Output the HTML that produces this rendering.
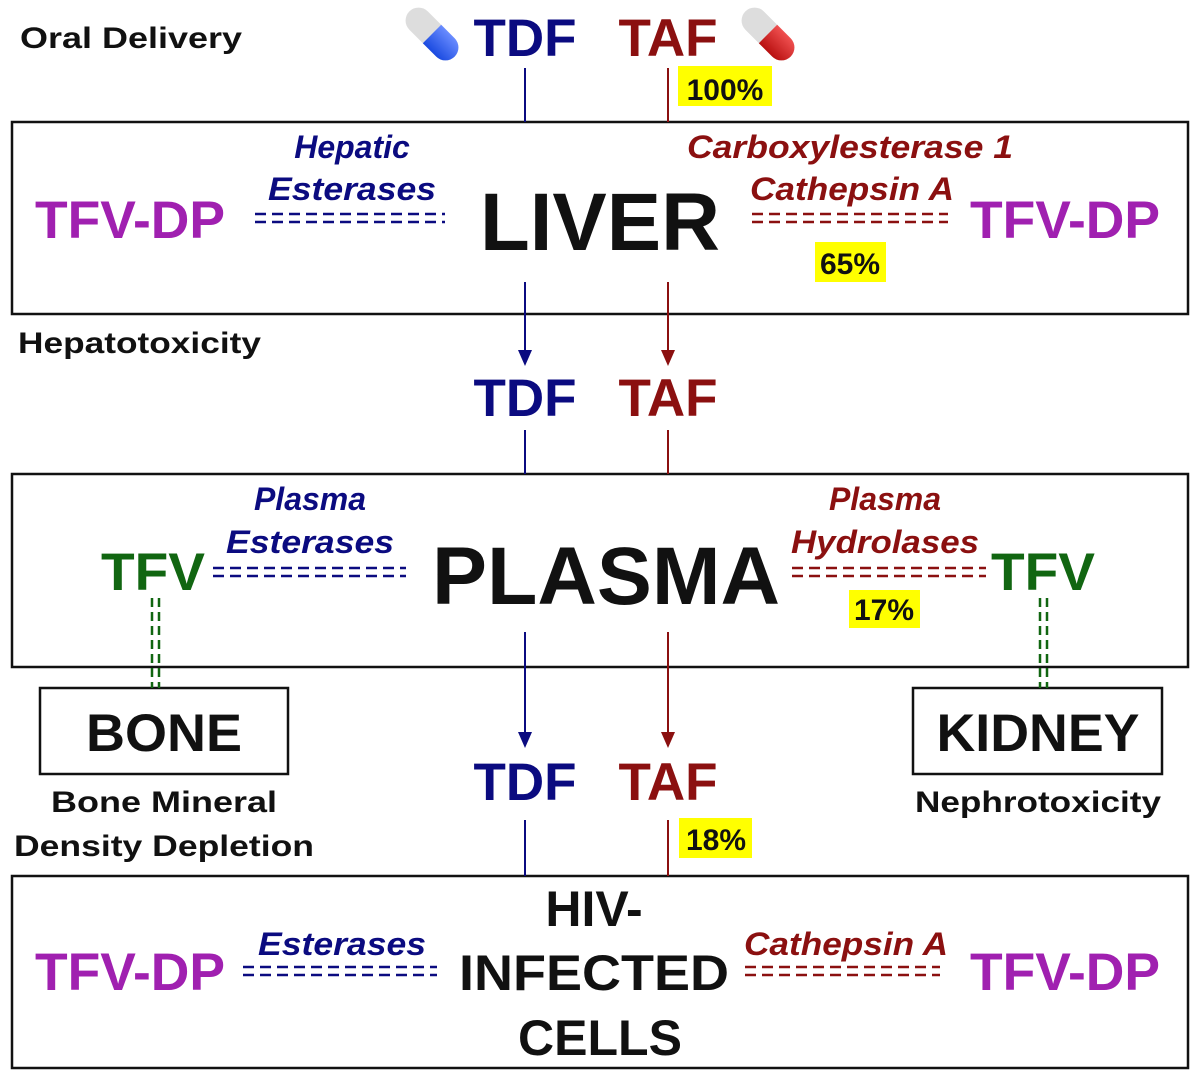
<!DOCTYPE html>
<html><head><meta charset="utf-8"><style>
html,body{margin:0;padding:0;background:#fff;}
svg{display:block;font-family:"Liberation Sans",Arial,sans-serif;font-weight:bold;}
</style></head><body>
<svg width="1200" height="1072" viewBox="0 0 1200 1072" xmlns="http://www.w3.org/2000/svg">
<defs>
<linearGradient id="pb" x1="0" y1="0" x2="0" y2="1"><stop offset="0" stop-color="#6a8cff"/><stop offset="1" stop-color="#1a4ae0"/></linearGradient>
<linearGradient id="pr" x1="0" y1="0" x2="0" y2="1"><stop offset="0" stop-color="#f05050"/><stop offset="1" stop-color="#b81010"/></linearGradient>
</defs>
<!-- boxes -->
<g fill="none" stroke="#111" stroke-width="2.5">
<rect x="12" y="122" width="1176" height="192"/>
<rect x="12" y="474" width="1176" height="193"/>
<rect x="40" y="688" width="248" height="86"/>
<rect x="913" y="688" width="249" height="86"/>
<rect x="12" y="876" width="1176" height="192"/>
</g>
<!-- pills -->
<g transform="translate(432,34) rotate(45)">
<rect x="-32" y="-13" width="64" height="26" rx="13" fill="#ddd"/>
<path d="M0,-13 L19,-13 A13,13 0 0 1 19,13 L0,13 Z" fill="url(#pb)"/>
</g>
<g transform="translate(768,34) rotate(45)">
<rect x="-32" y="-13" width="64" height="26" rx="13" fill="#ddd"/>
<path d="M0,-13 L19,-13 A13,13 0 0 1 19,13 L0,13 Z" fill="url(#pr)"/>
</g>
<!-- vertical lines -->
<g stroke-width="2">
<line x1="525" y1="68" x2="525" y2="122" stroke="#0b0b80"/>
<line x1="668" y1="68" x2="668" y2="122" stroke="#8b1010"/>
<line x1="525" y1="282" x2="525" y2="356" stroke="#0b0b80"/>
<line x1="668" y1="282" x2="668" y2="356" stroke="#8b1010"/>
<line x1="525" y1="430" x2="525" y2="474" stroke="#0b0b80"/>
<line x1="668" y1="430" x2="668" y2="474" stroke="#8b1010"/>
<line x1="525" y1="632" x2="525" y2="738" stroke="#0b0b80"/>
<line x1="668" y1="632" x2="668" y2="738" stroke="#8b1010"/>
<line x1="525" y1="820" x2="525" y2="876" stroke="#0b0b80"/>
<line x1="668" y1="820" x2="668" y2="876" stroke="#8b1010"/>
</g>
<polygon points="518,350 532,350 525,366" fill="#0b0b80"/>
<polygon points="661,350 675,350 668,366" fill="#8b1010"/>
<polygon points="518,732 532,732 525,748" fill="#0b0b80"/>
<polygon points="661,732 675,732 668,748" fill="#8b1010"/>
<!-- dashed doubles -->
<g stroke-width="2.5" stroke-dasharray="11,6">
<line x1="255" y1="214" x2="445" y2="214" stroke="#0b0b80"/><line x1="255" y1="222" x2="445" y2="222" stroke="#0b0b80"/>
<line x1="752" y1="214" x2="948" y2="214" stroke="#8b1010"/><line x1="752" y1="222" x2="948" y2="222" stroke="#8b1010"/>
<line x1="213" y1="568" x2="406" y2="568" stroke="#0b0b80"/><line x1="213" y1="576" x2="406" y2="576" stroke="#0b0b80"/>
<line x1="792" y1="568" x2="986" y2="568" stroke="#8b1010"/><line x1="792" y1="576" x2="986" y2="576" stroke="#8b1010"/>
<line x1="243" y1="967" x2="437" y2="967" stroke="#0b0b80"/><line x1="243" y1="975" x2="437" y2="975" stroke="#0b0b80"/>
<line x1="745" y1="967" x2="940" y2="967" stroke="#8b1010"/><line x1="745" y1="975" x2="940" y2="975" stroke="#8b1010"/>
</g>
<g stroke="#116611" stroke-width="2.5" stroke-dasharray="9,5">
<line x1="152" y1="598" x2="152" y2="688"/><line x1="159" y1="598" x2="159" y2="688"/>
<line x1="1040" y1="598" x2="1040" y2="688"/><line x1="1047" y1="598" x2="1047" y2="688"/>
</g>
<!-- yellow -->
<g fill="#ffff00">
<rect x="678" y="66" width="94" height="40"/>
<rect x="815" y="242" width="71" height="40"/>
<rect x="849" y="590" width="71" height="38"/>
<rect x="679" y="818" width="73" height="40"/>
</g>
<!-- text -->
<g font-size="30" fill="#111">
<text x="20" y="48" textLength="222" lengthAdjust="spacingAndGlyphs">Oral Delivery</text>
<text x="18" y="353" textLength="243" lengthAdjust="spacingAndGlyphs">Hepatotoxicity</text>
<text x="725" y="100" text-anchor="middle">100%</text>
<text x="850" y="274" text-anchor="middle">65%</text>
<text x="884" y="620" text-anchor="middle">17%</text>
<text x="716" y="850" text-anchor="middle">18%</text>
<text x="164" y="812" text-anchor="middle" textLength="226" lengthAdjust="spacingAndGlyphs">Bone Mineral</text>
<text x="164" y="856" text-anchor="middle" textLength="300" lengthAdjust="spacingAndGlyphs">Density Depletion</text>
<text x="1038" y="812" text-anchor="middle" textLength="246" lengthAdjust="spacingAndGlyphs">Nephrotoxicity</text>
</g>
<g font-size="53">
<text x="525" y="56" text-anchor="middle" fill="#0b0b80">TDF</text>
<text x="668" y="56" text-anchor="middle" fill="#8b1010">TAF</text>
<text x="525" y="416" text-anchor="middle" fill="#0b0b80">TDF</text>
<text x="668" y="416" text-anchor="middle" fill="#8b1010">TAF</text>
<text x="525" y="800" text-anchor="middle" fill="#0b0b80">TDF</text>
<text x="668" y="800" text-anchor="middle" fill="#8b1010">TAF</text>
<g fill="#a020b0">
<text x="35" y="238" textLength="190" lengthAdjust="spacingAndGlyphs">TFV-DP</text>
<text x="970" y="238" textLength="190" lengthAdjust="spacingAndGlyphs">TFV-DP</text>
<text x="35" y="990" textLength="190" lengthAdjust="spacingAndGlyphs">TFV-DP</text>
<text x="970" y="990" textLength="190" lengthAdjust="spacingAndGlyphs">TFV-DP</text>
</g>
<g fill="#116611">
<text x="101" y="590" textLength="104" lengthAdjust="spacingAndGlyphs">TFV</text>
<text x="991" y="590" textLength="104" lengthAdjust="spacingAndGlyphs">TFV</text>
</g>
</g>
<g fill="#111">
<text x="600" y="250" text-anchor="middle" font-size="82" textLength="240" lengthAdjust="spacingAndGlyphs">LIVER</text>
<text x="606" y="604" text-anchor="middle" font-size="82" textLength="348" lengthAdjust="spacingAndGlyphs">PLASMA</text>
<text x="164" y="751" text-anchor="middle" font-size="53" textLength="156" lengthAdjust="spacingAndGlyphs">BONE</text>
<text x="1038" y="751" text-anchor="middle" font-size="53" textLength="203" lengthAdjust="spacingAndGlyphs">KIDNEY</text>
<text x="594" y="926" text-anchor="middle" font-size="50">HIV-</text>
<text x="594" y="990" text-anchor="middle" font-size="50" textLength="270" lengthAdjust="spacingAndGlyphs">INFECTED</text>
<text x="600" y="1055" text-anchor="middle" font-size="50">CELLS</text>
</g>
<g font-size="32" font-style="italic">
<g fill="#0b0b80">
<text x="352" y="158" text-anchor="middle">Hepatic</text>
<text x="352" y="200" text-anchor="middle" textLength="168" lengthAdjust="spacingAndGlyphs">Esterases</text>
<text x="310" y="510" text-anchor="middle">Plasma</text>
<text x="310" y="553" text-anchor="middle" textLength="168" lengthAdjust="spacingAndGlyphs">Esterases</text>
<text x="342" y="955" text-anchor="middle" textLength="168" lengthAdjust="spacingAndGlyphs">Esterases</text>
</g>
<g fill="#8b1010">
<text x="850" y="158" text-anchor="middle" textLength="326" lengthAdjust="spacingAndGlyphs">Carboxylesterase 1</text>
<text x="852" y="200" text-anchor="middle" textLength="204" lengthAdjust="spacingAndGlyphs">Cathepsin A</text>
<text x="885" y="510" text-anchor="middle">Plasma</text>
<text x="885" y="553" text-anchor="middle" textLength="188" lengthAdjust="spacingAndGlyphs">Hydrolases</text>
<text x="846" y="955" text-anchor="middle" textLength="204" lengthAdjust="spacingAndGlyphs">Cathepsin A</text>
</g>
</g>
</svg>
</body></html>
